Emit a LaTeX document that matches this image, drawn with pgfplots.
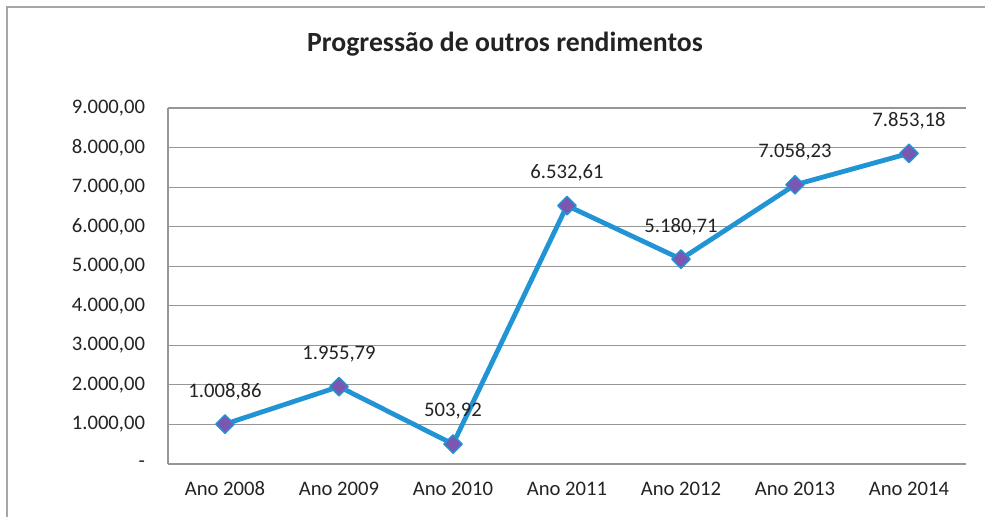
\documentclass[border=0pt]{standalone}
\usepackage{pgfplots}
\pgfplotsset{compat=1.18}
\usepackage{fontspec}
\setmainfont{Carlito}

\definecolor{lineblue}{RGB}{32,148,212}
\definecolor{markpurple}{RGB}{122,88,178}
\definecolor{gridgray}{RGB}{150,150,150}
\definecolor{txt}{RGB}{35,35,35}

\begin{document}
\begin{tikzpicture}
  \begin{axis}[
      name=main,
      scale only axis,
      width=598.5pt,
      height=267pt,
      xmin=-0.5, xmax=6.5,
      ymin=0, ymax=9000,
      xtick={0,...,6},
      xticklabels={Ano 2008,Ano 2009,Ano 2010,Ano 2011,Ano 2012,Ano 2013,Ano 2014},
      ytick={0,1000,...,9000},
      yticklabels={{-},{1.000,00},{2.000,00},{3.000,00},{4.000,00},{5.000,00},{6.000,00},{7.000,00},{8.000,00},{9.000,00}},
      tick style={draw=none},
      axis line style={draw=none},
      ymajorgrids=true,
      grid style={gridgray, line width=0.8pt},
      tick label style={font=\fontsize{15.5}{18}\selectfont, text=txt, inner sep=0pt},
      yticklabel style={anchor=east},
      yticklabel shift=17pt,
      xticklabel shift=13pt,
      clip=false,
      point meta=explicit symbolic,
      nodes near coords,
      every node near coord/.append style={font=\fontsize{15.5}{18}\selectfont, text=txt, anchor=center, yshift=24.5pt},
  ]

  % left axis line
  \draw[gridgray, line width=0.8pt] (rel axis cs:0,0) -- (rel axis cs:0,1);

  \addplot[lineblue, line width=3.6pt, line join=round,
           mark=square*, mark size=4.9pt,
           mark options={rotate=45, fill=markpurple, draw=lineblue, line width=1pt}]
      coordinates {
      (0,1008.86) [1.008,86]
      (1,1955.79) [1.955,79]
      (2,503.92)  [503,92]
      (3,6532.61) [6.532,61]
      (4,5180.71) [5.180,71]
      (5,7058.23) [7.058,23]
      (6,7853.18) [7.853,18]
      };

  \end{axis}

  % title
  \node[font=\fontsize{20.8}{24}\selectfont\bfseries, text=txt]
      at ([shift={(252.75pt,315pt)}]main.south west) {Progressão de outros rendimentos};

  % page frame (scanned border)
  \draw[gray!70, line width=0.8pt]
      ([shift={(-120.75pt,-39.75pt)}]main.south west) --
      ([shift={(-120.75pt,342.75pt)}]main.south west) --
      ([shift={(612.75pt,342.75pt)}]main.south west);
  \path ([shift={(-126pt,-39.75pt)}]main.south west) rectangle ([shift={(615pt,348pt)}]main.south west);
\end{tikzpicture}
\end{document}
